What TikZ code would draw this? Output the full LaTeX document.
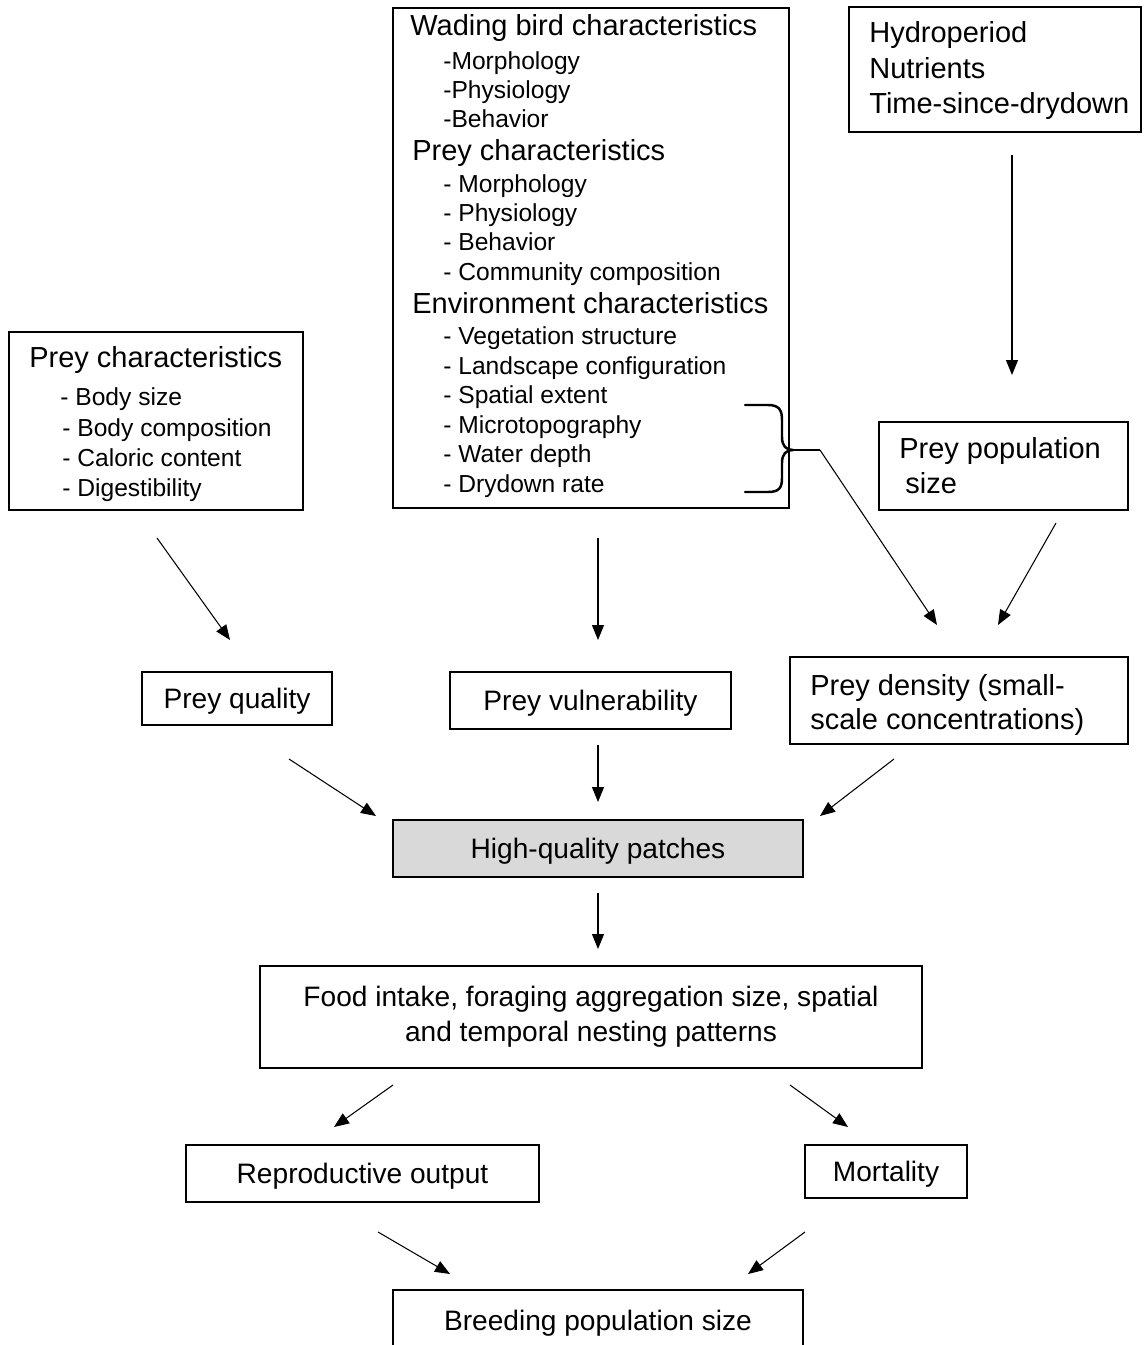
\documentclass[tikz,border=0pt]{standalone}
\usepackage{fontspec}
\setmainfont{Liberation Sans}
\usetikzlibrary{arrows.meta}
\newlength\pxu
\setlength\pxu{0.02cm}
\begin{document}
\begin{tikzpicture}[x=0.02cm,y=-0.02cm,
  frame/.style={draw, line width=0.85pt, inner sep=0pt},
  boxtext/.style={font=\fontsize{16}{19.8}\selectfont, text depth=0pt},
  head/.style={anchor=mid west, inner sep=0pt, yshift=-0.1cm, font=\fontsize{16.5}{19}\selectfont},
  item/.style={anchor=mid west, inner sep=0pt, yshift=-0.1cm, font=\fontsize{14}{17}\selectfont},
  arr/.style={line width=0.6pt, -{Triangle[length=0.3cm,width=0.24cm]}},
  brace/.style={line width=1.4pt, line cap=round, line join=round}
]
\useasboundingbox (0,0) rectangle (1143,1345);

% ---- upper row of driver boxes ----
\node[frame, minimum width=396\pxu, minimum height=500\pxu] (cent) at (591,258) {};
\node[head] (c1)  at (410,26)  {Wading bird characteristics};
\node[item] (c2)  at (443,60)  {-Morphology};
\node[item] (c3)  at (443,89)  {-Physiology};
\node[item] (c4)  at (443,118) {-Behavior};
\node[head] (c5)  at (412,151) {Prey characteristics};
\node[item] (c6)  at (443,183) {- Morphology};
\node[item] (c7)  at (443,212) {- Physiology};
\node[item] (c8)  at (443,241) {- Behavior};
\node[item] (c9)  at (443,271) {- Community composition};
\node[head] (c10) at (412,304) {Environment characteristics};
\node[item] (c11) at (443,335) {- Vegetation structure};
\node[item] (c12) at (443,365) {- Landscape configuration};
\node[item] (c13) at (443,394) {- Spatial extent};
\node[item] (c14) at (443,424) {- Microtopography};
\node[item] (c15) at (443,453) {- Water depth};
\node[item] (c16) at (443,483) {- Drydown rate};

\node[frame, minimum width=292\pxu, minimum height=125\pxu] (hyd) at (995,69.5) {};
\node[head] (h1) at (869,33)  {Hydroperiod};
\node[head] (h2) at (869,69)  {Nutrients};
\node[head] (h3) at (869,104) {Time-since-drydown};

\node[frame, minimum width=294\pxu, minimum height=178\pxu] (pc) at (156,421) {};
\node[head] (p1) at (29,358) {Prey characteristics};
\node[item] (p2) at (60,396) {- Body size};
\node[item] (p3) at (62,427) {- Body composition};
\node[item] (p4) at (62,457) {- Caloric content};
\node[item] (p5) at (62,487) {- Digestibility};

\node[frame, minimum width=249\pxu, minimum height=88\pxu] (pps) at (1003.5,466) {};
\node[head] (s1) at (899,449) {Prey population};
\node[head] (s2) at (905,484) {size};

% ---- brace grouping the last three environment items ----
\coordinate (bt) at (820,450);
\draw[brace] (745,405) -- (768,405) .. controls (779,405) and (782,410) .. (782,420)
  -- (782,437) .. controls (782,446) and (786,450) .. (793,450)
  .. controls (786,450) and (782,454) .. (782,463)
  -- (782,478) .. controls (782,488) and (779,492) .. (768,492) -- (745,492);
\draw[line width=0.9pt] (793,450) -- (bt);

% ---- middle row ----
\node[frame, boxtext, minimum width=190\pxu, minimum height=53\pxu] (pq) at (237,698.5) {Prey quality};
\node[frame, boxtext, minimum width=281\pxu, minimum height=57\pxu] (pv) at (590.5,700.5) {Prey vulnerability};
\node[frame, minimum width=338\pxu, minimum height=87\pxu] (pd) at (959,700.5) {};
\node[head] (d1) at (810,686) {Prey density (small-};
\node[head] (d2) at (810,720) {scale concentrations)};

\node[frame, boxtext, fill=black!15, minimum width=410\pxu, minimum height=57\pxu] (hq) at (598,848.5) {High-quality patches};
\node[frame, font=\fontsize{16}{19.8}\selectfont, align=center, minimum width=662\pxu, minimum height=102\pxu] (fi) at (591,1017)
  {Food intake, foraging aggregation size, spatial\\and temporal nesting patterns};
\node[frame, boxtext, minimum width=353\pxu, minimum height=57\pxu] (ro) at (362.5,1173.5) {Reproductive output};
\node[frame, boxtext, minimum width=162\pxu, minimum height=53\pxu] (mo) at (886,1171.5) {Mortality};
\node[frame, boxtext, minimum width=410\pxu, minimum height=60\pxu] (bp) at (598,1320) {Breeding population size};

% ---- connector end points (arrows stop short of the boxes) ----
\coordinate (hyd-o) at (1012,155);  \coordinate (pps-i) at (1012,375);
\coordinate (pc-o)  at (157,538);   \coordinate (pq-i)  at (230,640);
\coordinate (cent-o) at (598,538);  \coordinate (pv-i)  at (598,640);
\coordinate (pd-i1) at (937,625);
\coordinate (pps-o) at (1056,523);  \coordinate (pd-i2) at (998,625);
\coordinate (pq-o)  at (289,759);   \coordinate (hq-i1) at (376,816);
\coordinate (pv-o)  at (598,745);   \coordinate (hq-i2) at (598,802);
\coordinate (pd-o)  at (894,759);   \coordinate (hq-i3) at (820,816);
\coordinate (hq-o)  at (598,893);   \coordinate (fi-i)  at (598,949);
\coordinate (fi-o1) at (393,1085);  \coordinate (ro-i)  at (334,1127);
\coordinate (fi-o2) at (790,1085);  \coordinate (mo-i)  at (848,1127);
\coordinate (ro-o)  at (378,1232);  \coordinate (bp-i1) at (450,1274);
\coordinate (mo-o)  at (805,1232);  \coordinate (bp-i2) at (748,1274);

\draw[arr] (hyd-o) -- (pps-i);
\draw[arr] (pc-o) -- (pq-i);
\draw[arr] (cent-o) -- (pv-i);
\draw[arr] (bt) -- (pd-i1);
\draw[arr] (pps-o) -- (pd-i2);
\draw[arr] (pq-o) -- (hq-i1);
\draw[arr] (pv-o) -- (hq-i2);
\draw[arr] (pd-o) -- (hq-i3);
\draw[arr] (hq-o) -- (fi-i);
\draw[arr] (fi-o1) -- (ro-i);
\draw[arr] (fi-o2) -- (mo-i);
\draw[arr] (ro-o) -- (bp-i1);
\draw[arr] (mo-o) -- (bp-i2);
\end{tikzpicture}
\end{document}
